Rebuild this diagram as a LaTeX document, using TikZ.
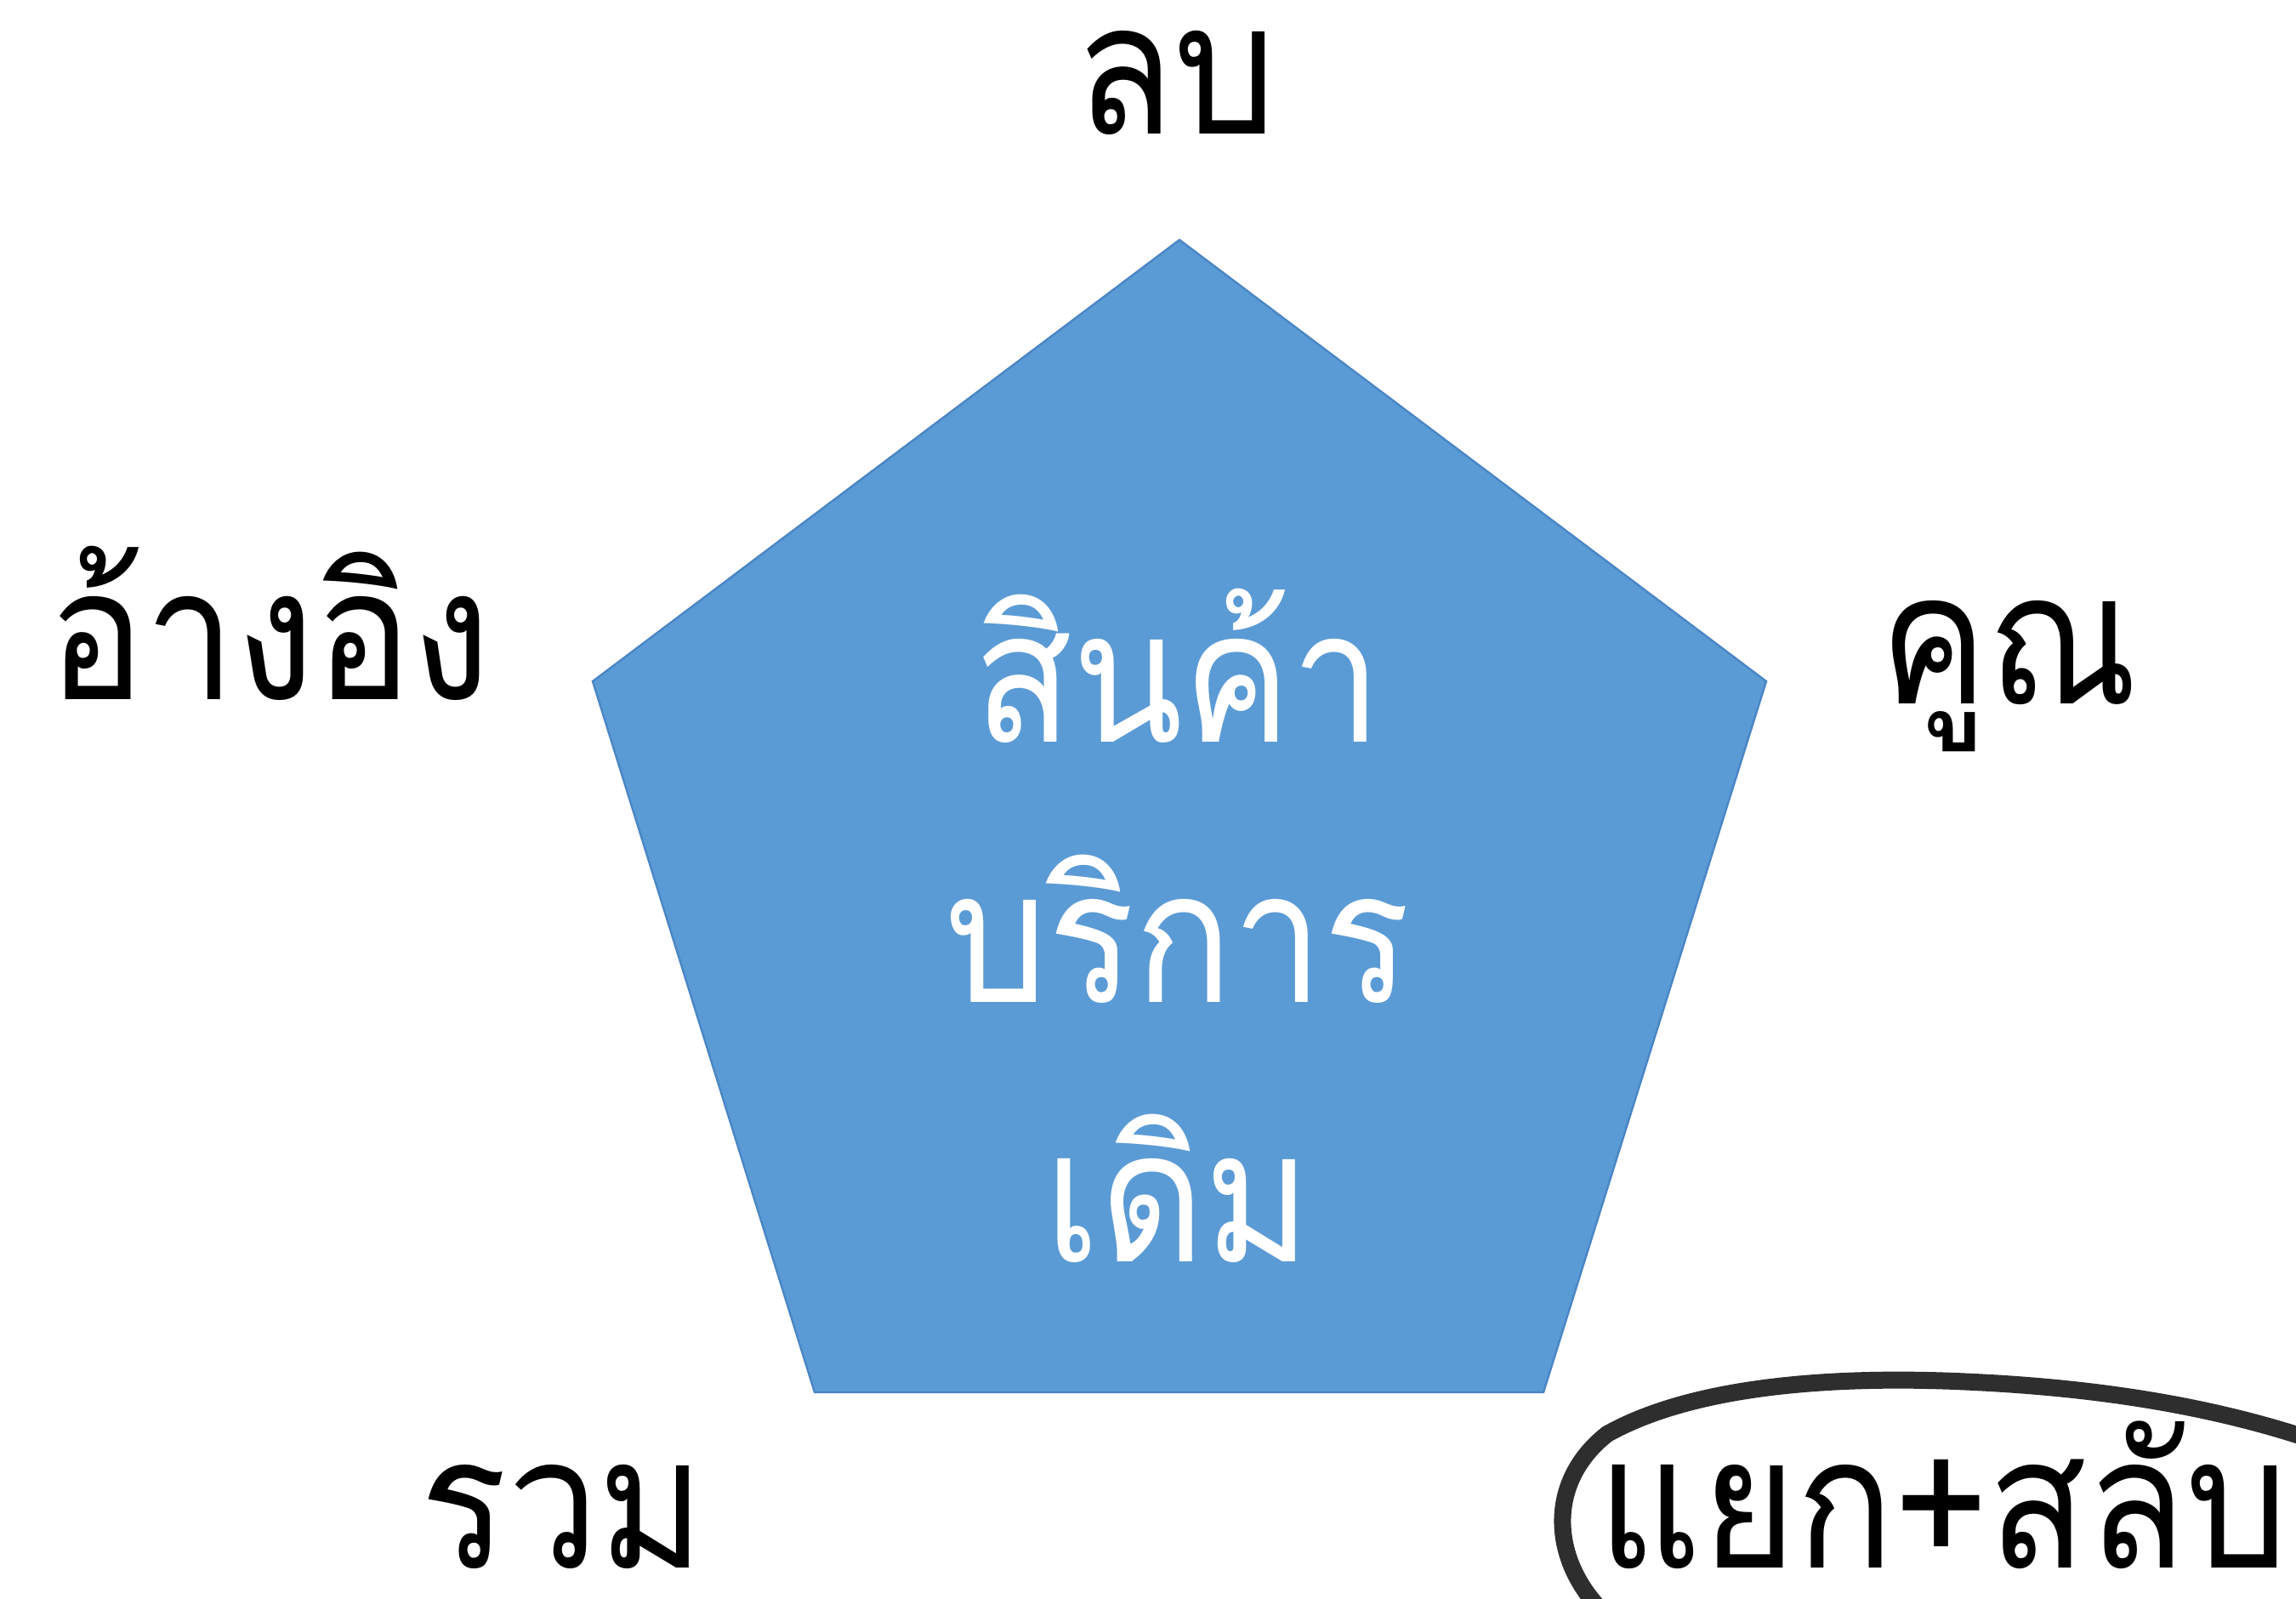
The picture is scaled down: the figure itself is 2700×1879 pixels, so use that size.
\documentclass[tikz,border=0pt]{standalone}
\usepackage{fontspec}
\newfontfamily\thaifont[Script=Thai, FakeStretch=0.88]{Loma}
\definecolor{pentblue}{HTML}{5B9BD5}
\definecolor{pentedge}{HTML}{4A86C5}
\definecolor{ringgray}{HTML}{2E2E2E}
\begin{document}
\begin{tikzpicture}[x=0.25pt,y=-0.25pt,
  lbl/.style={font=\thaifont\fontsize{54}{66}\selectfont, text=black, anchor=base, inner sep=0pt},
  ctr/.style={lbl, text=white},
  low/.style={lbl, text depth=0pt},
  ring/.style={draw=ringgray, line width=5pt, line cap=round}]
\useasboundingbox (0,0) rectangle (2700,1879);
\clip (0,0) rectangle (2700,1879);
\fill[white] (0,0) rectangle (2700,1879);
% pentagon
\coordinate (T) at (1387,282);
\coordinate (R) at (2077,801);
\coordinate (BR) at (1815,1637);
\coordinate (BL) at (958,1637);
\coordinate (L) at (697,801);
\filldraw[fill=pentblue, draw=pentedge, line width=0.6pt] (T) -- (R) -- (BR) -- (BL) -- (L) -- cycle;
% centre text
\node[ctr] (c1) at (1385,872) {สินค้า};
\node[ctr] (c2) at (1385,1178) {บริการ};
\node[ctr] (c3) at (1385,1483) {เดิม};
% labels
\node[lbl] (top) at (1383,157) {ลบ};
\node[lbl] (left) at (317,822) {อ้างอิง};
\node[lbl] (right) at (2362,827) {คูณ};
\node[low] (bl) at (662,1843) {รวม};
\node[low] (br) at (2285,1843) {แยก+สลับ};
% hand-drawn ring
\draw[ring] (1890,1900) .. controls (1825,1840) and (1815,1745) .. (1890,1686)
  .. controls (1990,1630) and (2150,1618) .. (2300,1624)
  .. controls (2450,1630) and (2600,1650) .. (2740,1700);
\end{tikzpicture}
\end{document}
